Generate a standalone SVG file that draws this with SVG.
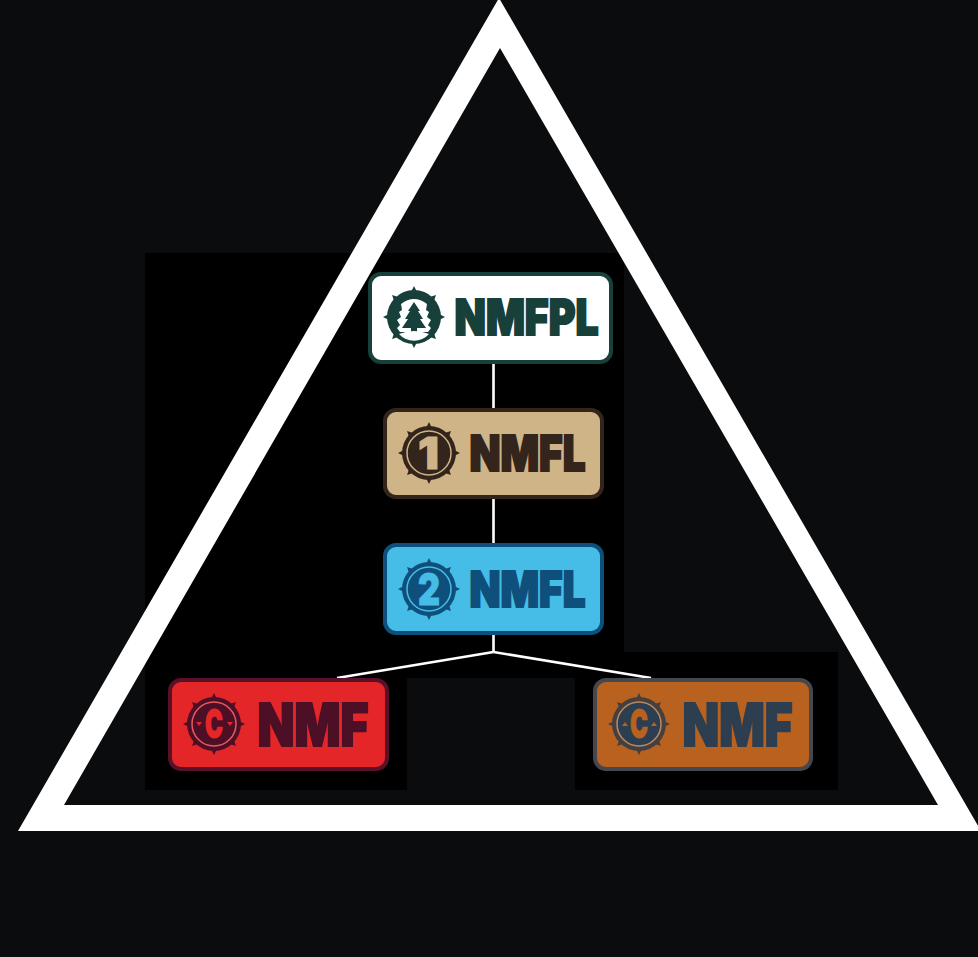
<svg xmlns="http://www.w3.org/2000/svg" width="978" height="957" viewBox="0 0 978 957">
<style>
.box{stroke-width:4}
.name{font-family:Inter,"Liberation Sans",sans-serif;font-weight:900;stroke-width:2;stroke-linejoin:miter}
.mark{font-family:Inter,"Liberation Sans",sans-serif;font-weight:900;stroke-width:1}
.ring{fill:none;stroke-width:1.5}
#connectors line{stroke:#fff;stroke-width:2.6}
</style>
<defs>
<g id="compass">
<circle r="27" fill="currentColor"/>
<g fill="currentColor">
<path id="spike" d="M-2.500-26L0-31L2.500-26Z"/>
<use href="#spike" transform="rotate(45)"/>
<use href="#spike" transform="rotate(90)"/>
<use href="#spike" transform="rotate(135)"/>
<use href="#spike" transform="rotate(180)"/>
<use href="#spike" transform="rotate(225)"/>
<use href="#spike" transform="rotate(270)"/>
<use href="#spike" transform="rotate(315)"/>
</g>
</g>
</defs>
<rect width="978" height="957" fill="#0b0c0e"/>
<path d="M145 253H624V652H838V790H575V678H407V790H145Z" fill="#000"/>
<path d="M499-2L981 831H18ZM500 48L64 805H938Z" fill="#fff" fill-rule="evenodd"/>
<g id="connectors">
<line x1="493.5" y1="364" x2="493.5" y2="408"/>
<line x1="493.5" y1="499" x2="493.5" y2="543"/>
<line x1="493.5" y1="635" x2="493.5" y2="652"/>
<line x1="493.5" y1="652" x2="337" y2="678"/>
<line x1="493.5" y1="652" x2="651" y2="678"/>
</g>
<g id="node-nmfpl">
<rect class="box" x="370" y="274" width="241" height="88" rx="11" fill="#fff" stroke="#17403a"/>
<use href="#compass" x="414" y="317" color="#17403a"/>
<g transform="translate(414 317)">
<path d="M-13-13Q0-23 13-13L12-7L15-5L13 0L17 3L14 8L17 11L14 15H-14L-17 11L-14 8L-17 3L-13 0L-15-5L-12-7Z" fill="#fff"/>
<path d="M0-15L6-6H4L9 2H6L12 11H3V17H-3V11H-12L-6 2H-9L-4-6H-6Z" fill="#17403a"/>
<path d="M-15 17Q0 11 15 17A20 20 0 0 1-15 17Z" fill="#fff"/>
</g>
<text class="name" x="454.500" y="335" font-size="49" textLength="144" lengthAdjust="spacingAndGlyphs" fill="#17403a" stroke="#17403a">NMFPL</text>
</g>
<g id="node-nmfl-1">
<rect class="box" x="385" y="410" width="217" height="87" rx="11" fill="#cfb487" stroke="#33251b"/>
<use href="#compass" x="429" y="453" color="#33251b"/>
<circle class="ring" cx="429" cy="453" r="22" stroke="#cfb487"/>
<text class="mark" x="418" y="469" font-size="44" textLength="21" lengthAdjust="spacingAndGlyphs" fill="#cfb487" stroke="#cfb487">1</text>
<text class="name" x="469.500" y="471" font-size="50" textLength="116" lengthAdjust="spacingAndGlyphs" fill="#33251b" stroke="#33251b">NMFL</text>
</g>
<g id="node-nmfl-2">
<rect class="box" x="385" y="545" width="217" height="88" rx="11" fill="#45bde6" stroke="#0f4f7c"/>
<use href="#compass" x="429" y="589" color="#0f4f7c"/>
<circle class="ring" cx="429" cy="589" r="22" stroke="#45bde6"/>
<text class="mark" x="418" y="605" font-size="44" textLength="22" lengthAdjust="spacingAndGlyphs" fill="#45bde6" stroke="#45bde6">2</text>
<text class="name" x="469.500" y="607" font-size="50" textLength="116" lengthAdjust="spacingAndGlyphs" fill="#0f4f7c" stroke="#0f4f7c">NMFL</text>
</g>
<g id="node-nmf-red">
<rect class="box" x="170" y="680" width="217" height="89" rx="11" fill="#e52629" stroke="#5a1029"/>
<use href="#compass" x="214" y="724" color="#4c0f26"/>
<circle class="ring" cx="214" cy="724" r="22" stroke="#e8595c"/>
<text class="mark" x="205" y="738" font-size="40" textLength="18" lengthAdjust="spacingAndGlyphs" fill="#e52629" stroke="#e52629">C</text>
<path d="M196 722h6l-3 4ZM227 722h6l-3 4Z" fill="#e52629"/>
<text class="name" x="257.500" y="746" font-size="59" textLength="111" lengthAdjust="spacingAndGlyphs" fill="#4c0f26" stroke="#4c0f26">NMF</text>
</g>
<g id="node-nmf-orange">
<rect class="box" x="595" y="680" width="216" height="89" rx="11" fill="#b9611f" stroke="#45474f"/>
<use href="#compass" x="639" y="724" color="#45403f"/>
<circle cx="639" cy="724" r="22" fill="#2c3e50"/>
<circle class="ring" cx="639" cy="724" r="22" stroke="#b98a62"/>
<text class="mark" x="630" y="738" font-size="40" textLength="18" lengthAdjust="spacingAndGlyphs" fill="#b9611f" stroke="#b9611f">C</text>
<path d="M622 726h6l-3-4ZM651 726h6l-3-4Z" fill="#b9611f"/>
<text class="name" x="682.500" y="746" font-size="59" textLength="110" lengthAdjust="spacingAndGlyphs" fill="#2c3e50" stroke="#2c3e50">NMF</text>
</g>
</svg>
